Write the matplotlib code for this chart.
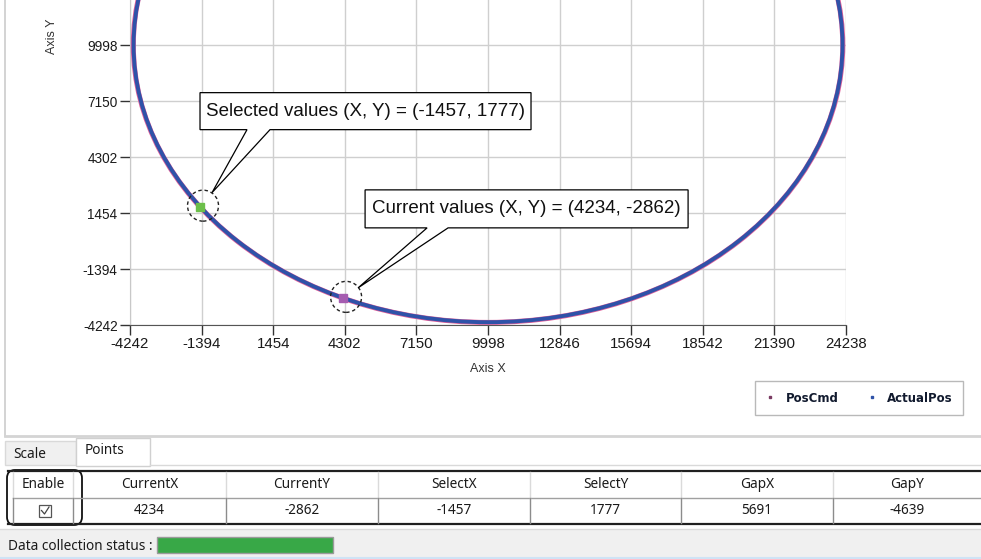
import matplotlib
matplotlib.use("Agg")
import matplotlib.pyplot as plt
from matplotlib.patches import Circle, Polygon, Rectangle, FancyBboxPatch
from matplotlib.lines import Line2D
from matplotlib.transforms import ScaledTranslation

# axis ticks
x_ticks = [-4242, -1394, 1454, 4302, 7150, 9998, 12846, 15694, 18542, 21390, 24238]
y_ticks = [-4242, -1394, 1454, 4302, 7150, 9998]
y_top = 12287

# traced positions (circular path)
pos_cmd_center = (10000, 10000)
pos_cmd_radius = 14110
actual_pos_center = (10000, 10000)
actual_pos_radius = 14100

# current / selected points
current_xy = (4234, -2862)
selected_xy = (-1457, 1777)

gap_xy = (current_xy[0] - selected_xy[0], current_xy[1] - selected_xy[1])
table_headers = ["Enable", "CurrentX", "CurrentY", "SelectX", "SelectY", "GapX", "GapY"]
table_values = [current_xy[0], current_xy[1], selected_xy[0], selected_xy[1], gap_xy[0], gap_xy[1]]

W, H = 981, 559
fig = plt.figure(figsize=(W / 100, H / 100), dpi=100)
fig.patch.set_facecolor("white")


def fx(px):
    return px / W


def fy(py):
    return 1 - py / H


# pixel helpers for the widgets around the plot (inches, y from top)
def ix(px):
    return px / 100


def iy(py):
    return (H - py) / 100


inch = fig.dpi_scale_trans
ui_font = "Noto Sans"
tick_font = "Liberation Sans"

ax = fig.add_axes([fx(130), fy(325), fx(846) - fx(130), fy(0) - fy(325)])
ax.set_xlim(x_ticks[0], x_ticks[-1])
ax.set_ylim(y_ticks[0], y_top)
ax.set_xticks(x_ticks)
ax.set_yticks(y_ticks)
ax.set_xticklabels([str(v) for v in x_ticks], family=tick_font, fontsize=10.8)
ax.set_yticklabels([str(v) for v in y_ticks], family=tick_font, fontsize=9.8)
ax.grid(True, color="#cfcfcf", lw=1)
ax.set_axisbelow(True)
for s in ["top", "right"]:
    ax.spines[s].set_visible(False)
ax.spines["left"].set_color("#c8c8c8")
ax.spines["bottom"].set_color("#555555")
ax.tick_params(axis="both", length=7, width=1, color="#333333", labelcolor="#1a1a1a", pad=2)
ax.set_xlabel("Axis X", family=tick_font, fontsize=9, color="#333333", labelpad=8)
ax.set_ylabel("Axis Y", family=tick_font, fontsize=9, color="#333333")
ax.yaxis.set_label_coords(-0.1, 0.89)

# PosCmd underneath, ActualPos on top
ax.add_patch(Circle(pos_cmd_center, pos_cmd_radius, fill=False, ec="#e0609a", lw=3.6, zorder=3))
ax.add_patch(Circle(actual_pos_center, actual_pos_radius, fill=False, ec="#2f52a8", lw=2.8, zorder=4))

ax.plot(*selected_xy, "s", ms=6, color="#6cbf4a", zorder=6, clip_on=False)
ax.plot(*current_xy, "s", ms=6, color="#a55cb0", zorder=6, clip_on=False)


def callout(xy, text, box, wedge, tip):
    trans = inch + ScaledTranslation(xy[0], xy[1], ax.transData)
    x0, x1, y0, y1 = box
    verts = [(x0, y0), (wedge[0], y0), tip, (wedge[1], y0), (x1, y0), (x1, y1), (x0, y1)]
    verts = [(a / 100, b / 100) for a, b in verts]
    ax.add_patch(Polygon(verts, closed=True, fc="white", ec="black", lw=0.9,
                         transform=trans, clip_on=False, zorder=8))
    ax.text((x0 + x1) / 200, (y0 + y1) / 200, text, transform=trans, ha="center", va="center",
            family=tick_font, fontsize=13.5, color="#111111", zorder=9, clip_on=False)
    ax.add_patch(Circle((0.03, 0.01), 0.155, transform=trans, fill=False, ec="#222222", lw=1,
                        ls=(0, (2.5, 2)), clip_on=False, zorder=7))


callout(selected_xy, "Selected values (X, Y) = (%d, %d)" % selected_xy,
        box=(0, 331, 77, 114), wedge=(47, 70), tip=(12, 14))
callout(current_xy, "Current values (X, Y) = (%d, %d)" % current_xy,
        box=(22, 345, 70, 108), wedge=(84, 105), tip=(15, 10))

# legend
handles = [Line2D([], [], marker="s", ls="", ms=1.8, color="#7a3b62"),
           Line2D([], [], marker="s", ls="", ms=1.8, color="#2f52a8")]
leg = fig.legend(handles, ["PosCmd", "ActualPos"], loc="center",
                 bbox_to_anchor=(fx(859), fy(398)), ncol=2, frameon=True, fancybox=False,
                 edgecolor="#a8a8a8", prop=dict(family="DejaVu Sans", weight="bold", size=8.5),
                 handlelength=0.8, handletextpad=0.9, columnspacing=2.4, borderpad=0.9)
leg.get_frame().set_linewidth(1)
for t in leg.get_texts():
    t.set_color("#111a2e")

# chart panel frame
fig.add_artist(Line2D([ix(5), ix(5)], [iy(0), iy(436)], transform=inch, color="#cccccc", lw=1.2))
fig.add_artist(Line2D([ix(5), ix(981)], [iy(436), iy(436)], transform=inch, color="#d4d4d4", lw=2))

# tabs
fig.add_artist(Rectangle((ix(5), iy(465)), ix(71), ix(24), transform=inch,
                         fc="#f0f0f0", ec="#d9d9d9", lw=1))
fig.add_artist(Rectangle((ix(76), iy(466)), ix(74), ix(28), transform=inch,
                         fc="white", ec="#d0d0d0", lw=1))
fig.add_artist(Line2D([ix(150), ix(981)], [iy(465), iy(465)], transform=inch, color="#d9d9d9", lw=1))
fig.text(fx(13), fy(454), "Scale", family=ui_font, fontsize=9.8, va="center", color="#1a1a1a")
fig.text(fx(85), fy(451), "Points", family=ui_font, fontsize=9.8, va="center", color="#1a1a1a")

# points table
col_edges = [13, 73, 226, 378, 530, 681, 833, 981]
head_y, row_y = 485, 511
fig.add_artist(Line2D([ix(8), ix(981)], [iy(471), iy(471)], transform=inch, color="#202020", lw=1.6))
fig.add_artist(Line2D([ix(8), ix(981)], [iy(524), iy(524)], transform=inch, color="#202020", lw=1.6))
fig.add_artist(Line2D([ix(13), ix(981)], [iy(498), iy(498)], transform=inch, color="#a0a0a0", lw=1))
for cx in col_edges[:-1]:
    fig.add_artist(Line2D([ix(cx), ix(cx)], [iy(472), iy(498)], transform=inch, color="#dadada", lw=1))
    fig.add_artist(Line2D([ix(cx), ix(cx)], [iy(498), iy(523)], transform=inch, color="#8c8c8c", lw=1))
for i, name in enumerate(table_headers):
    cx = (col_edges[i] + col_edges[i + 1]) / 2
    fig.text(fx(cx), fy(head_y), name, family=ui_font, fontsize=9.8, ha="center", va="center",
             color="#1a1a1a")
for i, val in enumerate(table_values):
    cx = (col_edges[i + 1] + col_edges[i + 2]) / 2
    fig.text(fx(cx), fy(row_y), str(val), family=ui_font, fontsize=9.8, ha="center", va="center",
             color="#1a1a1a")

# enable checkbox
fig.add_artist(Rectangle((ix(39), iy(517)), ix(12), ix(12), transform=inch,
                         fc="white", ec="#555555", lw=0.9))
fig.add_artist(Line2D([ix(41.5), ix(44.5), ix(49)], [iy(510.5), iy(514), iy(507)],
                      transform=inch, color="#444444", lw=0.9))
fig.add_artist(FancyBboxPatch((ix(7), iy(525)), ix(75), ix(55), transform=inch,
                              boxstyle="round,pad=0,rounding_size=0.08",
                              fc="none", ec="#111111", lw=1.3))

# status bar
fig.add_artist(Rectangle((ix(0), iy(559)), ix(981), ix(30), transform=inch,
                         fc="#f0f0f0", ec="none"))
fig.add_artist(Line2D([ix(0), ix(981)], [iy(529), iy(529)], transform=inch, color="#dcdcdc", lw=1))
fig.add_artist(Line2D([ix(0), ix(981)], [iy(557.5), iy(557.5)], transform=inch, color="#cfe3f5", lw=1.5))
fig.text(fx(8), fy(546), "Data collection status :", family=ui_font, fontsize=9.8, va="center",
         color="#1a1a1a")
fig.add_artist(Rectangle((ix(157), iy(553)), ix(176), ix(16), transform=inch,
                         fc="#38a847", ec="#9a9a9a", lw=1))

fig.savefig("out.png", dpi=100)
